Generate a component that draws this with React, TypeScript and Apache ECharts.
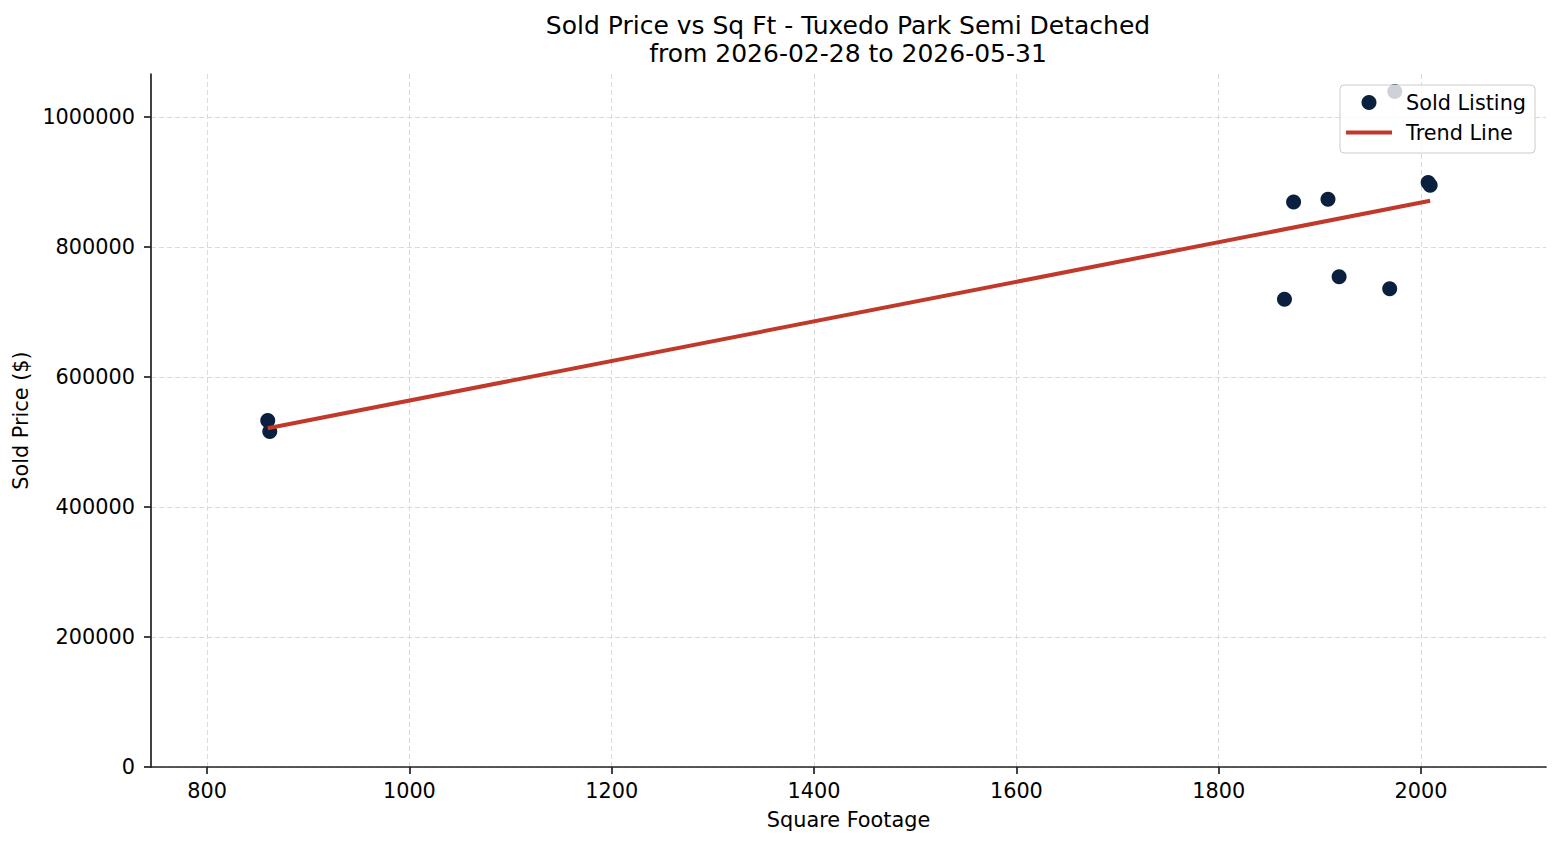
import React, { useEffect, useRef } from "react";
import * as echarts from "echarts";

// Sold listings: living area (sq ft) and sold price ($)
const squareFootage = [860, 862, 1865, 1874, 1908, 1919, 1969, 1974, 2007, 2009];
const soldPrices = [533000, 516000, 719500, 869000, 873500, 754000, 735500, 1039000, 899000, 895000];

// Fitted trend line end points
const trendSqft = [860, 2009];
const trendPrice = [521000, 871000];

const xTicks = [800, 1000, 1200, 1400, 1600, 1800, 2000];
const yTicks = [0, 200000, 400000, 600000, 800000, 1000000];

const titleLines = ["Sold Price vs Sq Ft - Tuxedo Park Semi Detached", "from 2026-02-28 to 2026-05-31"];

const FONT = "DejaVu Sans";
const NAVY = "#0b1f3e";
const RED = "#c0392b";
const LABEL_SIZE = 20.8;

export default function App() {
  const ref = useRef<HTMLDivElement>(null);

  useEffect(() => {
    if (!ref.current) return;
    const chart = echarts.init(ref.current, undefined, { renderer: "svg" });

    const scatterData = squareFootage.map((x, i) => [x, soldPrices[i]]);
    const trendData = trendSqft.map((x, i) => [x, trendPrice[i]]);

    const axisLine = { show: true, lineStyle: { color: "#222", width: 1.7 } };
    const axisTick = { show: true, length: 7, lineStyle: { color: "#222", width: 1.7 } };
    const splitLine = { show: true, lineStyle: { color: "#dadada", width: 1, type: [5, 3] as any } };

    chart.setOption({
      animation: false,
      backgroundColor: "#fff",
      title: {
        text: titleLines.join("\n"),
        left: 848,
        top: 11,
        textAlign: "center",
        padding: 0,
        textStyle: { fontFamily: FONT, fontSize: 25, fontWeight: "normal", color: "#000", lineHeight: 28 },
      },
      legend: {
        left: 1340,
        top: 85,
        orient: "vertical",
        padding: [7, 9, 10, 6],
        itemGap: 9,
        itemWidth: 46,
        itemHeight: 15,
        backgroundColor: "rgba(255,255,255,0.8)",
        borderColor: "#cccccc",
        borderWidth: 1,
        borderRadius: 4,
        z: 10,
        textStyle: { fontFamily: FONT, fontSize: LABEL_SIZE, color: "#000", lineHeight: 20, padding: [0, 0, 0, 9] },
        data: [
          { name: "Sold Listing", icon: "circle" },
          { name: "Trend Line", icon: "path://M0,0 L46,0 L46,4 L0,4 Z" },
        ],
      },
      grid: { left: 151, right: 14, top: 74, bottom: 78, containLabel: false },
      xAxis: {
        type: "value",
        min: 744.6,
        max: 2123.5,
        name: "Square Footage",
        nameLocation: "middle",
        nameGap: 42,
        nameTextStyle: { fontFamily: FONT, fontSize: LABEL_SIZE, color: "#000" },
        axisLine,
        axisTick: { ...axisTick, customValues: xTicks },
        axisLabel: {
          customValues: xTicks,
          margin: 13,
          fontFamily: FONT,
          fontSize: LABEL_SIZE,
          color: "#000",
          formatter: (v: number) => String(v),
        },
        splitLine,
      },
      yAxis: {
        type: "value",
        min: 0,
        max: 1066000,
        name: "Sold Price ($)",
        nameLocation: "middle",
        nameGap: 119,
        nameRotate: 90,
        nameTextStyle: { fontFamily: FONT, fontSize: LABEL_SIZE, color: "#000" },
        axisLine,
        axisTick: { ...axisTick, customValues: yTicks },
        axisLabel: {
          customValues: yTicks,
          margin: 16,
          fontFamily: FONT,
          fontSize: LABEL_SIZE,
          color: "#000",
          formatter: (v: number) => String(v),
        },
        splitLine,
      },
      series: [
        {
          name: "Sold Listing",
          type: "scatter",
          data: scatterData,
          symbol: "circle",
          symbolSize: 15,
          itemStyle: { color: NAVY, opacity: 1 },
          z: 2,
        },
        {
          name: "Trend Line",
          type: "line",
          data: trendData,
          showSymbol: false,
          symbol: "none",
          lineStyle: { color: RED, width: 4 },
          itemStyle: { color: RED },
          z: 3,
        },
      ],
    });

    return () => chart.dispose();
  }, []);

  return <div ref={ref} style={{ position: "fixed", left: 0, top: 0, width: 1560, height: 845 }} />;
}
